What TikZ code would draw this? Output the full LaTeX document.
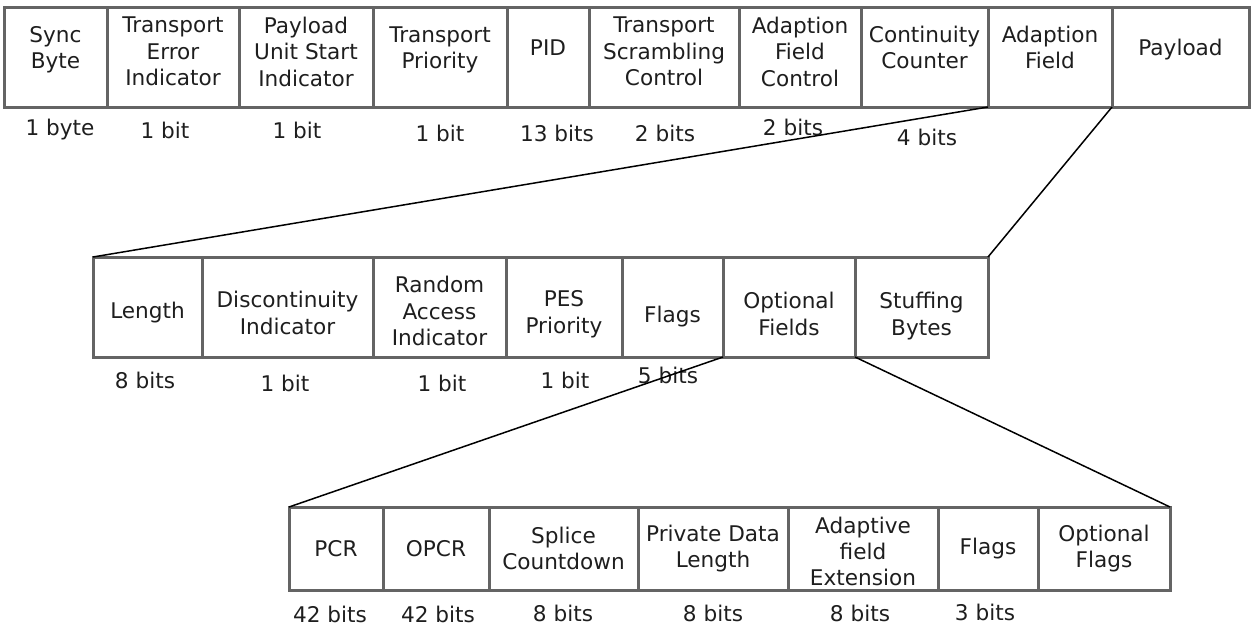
\documentclass[tikz,border=0pt]{standalone}
\usepackage{fontspec}
\setmainfont{DejaVu Sans}
\usetikzlibrary{positioning}
\definecolor{boxgray}{RGB}{100,100,100}
\definecolor{ink}{RGB}{30,30,30}

\begin{document}
\begin{tikzpicture}[x=0.5pt,y=-0.5pt,node distance=0pt,
  field/.style={draw=boxgray,line width=1.5pt,outer sep=0pt,inner sep=1pt,
    align=center,text=ink,font=\fontsize{10.8}{13.2}\selectfont},
  top/.style={field,minimum height=50pt},
  low/.style={field,minimum height=41.5pt},
  wd/.style={minimum width=#1*0.5pt},
  up/.style={text depth=#1},
  down/.style={text height=#1},
  bits/.style={text=ink,inner sep=0pt,font=\fontsize{10.8}{13.2}\selectfont},
  link/.style={black,line width=0.75pt}]
\useasboundingbox (0,0) rectangle (1252,627);

% transport packet header
\node[top,up=9.5pt,wd=103,anchor=north west] (sync) at (4,7) {Sync\\Byte};
\node[top,up=5.5pt,wd=132,right=of sync] (tei) {Transport\\Error\\Indicator};
\node[top,up=5.5pt,wd=134,right=of tei] (pusi) {Payload\\Unit Start\\Indicator};
\node[top,up=9.5pt,wd=134,right=of pusi] (tprio) {Transport\\Priority};
\node[top,up=9.5pt,wd=82,right=of tprio] (pid) {PID};
\node[top,up=5.5pt,wd=150,right=of pid] (tsc) {Transport\\Scrambling\\Control};
\node[top,up=5.5pt,wd=122,right=of tsc] (afc) {Adaption\\Field\\Control};
\node[top,up=9.5pt,wd=127,right=of afc] (cc) {Continuity\\Counter};
\node[top,up=9.5pt,wd=124,right=of cc] (adapt) {Adaption\\Field};
\node[top,up=9.5pt,wd=137,right=of adapt] (payload) {Payload};

\node[bits] (syncb) at (60,130) {1 byte};
\node[bits] (teib) at (165,130) {1 bit};
\node[bits] (pusib) at (297,130) {1 bit};
\node[bits] (tpriob) at (440,133) {1 bit};
\node[bits] (pidb) at (557,133) {13 bits};
\node[bits] (tscb) at (665,133) {2 bits};
\node[bits] (afcb) at (793,127) {2 bits};
\node[bits] (ccb) at (927,137) {4 bits};

% adaption field
\node[top,down=14pt,wd=109,anchor=north west] (len) at (93,257) {Length};
\node[top,down=27.4pt,wd=171,right=of len] (disc) {Discontinuity\\Indicator};
\node[top,down=38.6pt,wd=133,right=of disc] (rai) {Random\\Access\\Indicator};
\node[top,down=28.4pt,wd=116,right=of rai] (pesp) {PES\\Priority};
\node[top,down=18pt,wd=101,right=of pesp] (flags) {Flags};
\node[top,down=28.4pt,wd=132,right=of flags] (opt) {Optional\\Fields};
\node[top,down=30.4pt,wd=133,right=of opt] (stuff) {Stuffing\\Bytes};

\node[bits] (lenb) at (145,380) {8 bits};
\node[bits] (discb) at (285,383) {1 bit};
\node[bits] (raib) at (442,383) {1 bit};
\node[bits] (pespb) at (565,380) {1 bit};
\node[bits] (flagsb) at (668,375) {5 bits};

% optional fields
\node[low,wd=94,anchor=north west] (pcr) at (289,507) {PCR};
\node[low,wd=106,right=of pcr] (opcr) {OPCR};
\node[low,wd=149,right=of opcr] (splice) {Splice\\Countdown};
\node[low,wd=150,right=of splice] (pdl) {Private Data\\Length};
\node[low,down=37.6pt,wd=150,right=of pdl] (afe) {Adaptive\\field\\Extension};
\node[low,wd=100,right=of afe] (oflg) {Flags};
\node[low,wd=132,right=of oflg] (optflg) {Optional\\Flags};

\node[bits] (pcrb) at (330,614) {42 bits};
\node[bits] (opcrb) at (438,614) {42 bits};
\node[bits] (spliceb) at (563,613) {8 bits};
\node[bits] (pdlb) at (713,613) {8 bits};
\node[bits] (afeb) at (860,613) {8 bits};
\node[bits] (oflgb) at (985,612) {3 bits};

\draw[link] (adapt.south west) -- (len.north west);
\draw[link] (adapt.south east) -- (stuff.north east);
\draw[link] (opt.south west) -- (pcr.north west);
\draw[link] (opt.south east) -- (optflg.north east);

\end{tikzpicture}
\end{document}
